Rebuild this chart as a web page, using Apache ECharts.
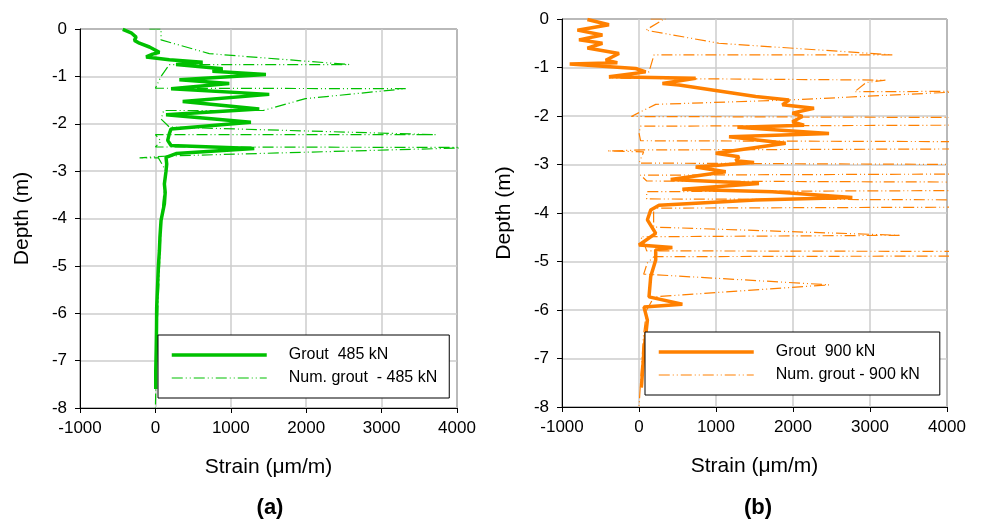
<!DOCTYPE html>
<html>
<head>
<meta charset="utf-8">
<script src="https://cdn.jsdelivr.net/npm/echarts@6/dist/echarts.min.js"></script>
<style>html,body{margin:0;padding:0;background:#fff}#c{width:982px;height:519px}</style>
</head>
<body>
<div id="c"></div>
<script>
// Panel (a): Grout 485 kN (measured)
const groutAStrain = [-433,-322,-256,-278,-212,-79,53,-36,-123,185,627,274,892,757,1466,318,980,208,1510,362,1377,141,1267,208,185,163,208,1311,274,141,150,141,119,130,119,75,60,53,40,30,17,15,10,5,5];
const groutADepth  = [-0.01,-0.08,-0.17,-0.24,-0.30,-0.38,-0.49,-0.53,-0.59,-0.65,-0.70,-0.75,-0.84,-0.89,-0.96,-1.07,-1.15,-1.26,-1.38,-1.53,-1.69,-1.81,-1.97,-2.11,-2.21,-2.35,-2.46,-2.52,-2.63,-2.71,-2.85,-3.0,-3.27,-3.45,-3.69,-4.04,-4.4,-4.68,-5.0,-5.38,-5.88,-6.3,-6.8,-7.2,-7.6];
// Panel (a): Numerical grout 485 kN
const numAStrain = [-80,75,75,715,2570,185,75,0,3320,1990,1430,110,75,185,3717,0,75,0,4300,185,-210,40,140,110,80,55,30,12,0];
const numADepth  = [0,0,-0.23,-0.52,-0.75,-0.75,-1.0,-1.25,-1.26,-1.47,-1.72,-1.72,-1.9,-2.07,-2.23,-2.23,-2.37,-2.49,-2.50,-2.68,-2.72,-2.72,-3.0,-3.5,-4.0,-5.0,-6.0,-7.0,-8.0];
// Panel (b): Grout 900 kN (measured)
const groutBStrain = [-670,-390,-800,-475,-779,-475,-670,-260,-432,-281,-900,-43,87,-390,736,304,520,1515,1948,1862,2273,1992,2122,1992,2143,1278,2468,1169,1905,996,1299,1256,1494,736,1126,412,1558,563,1732,2771,1515,260,152,109,217,0,433,217,217,152,130,563,65,109,65,35,30];
const groutBDepth  = [-0.01,-0.12,-0.23,-0.33,-0.43,-0.50,-0.60,-0.71,-0.85,-0.90,-0.93,-1.02,-1.09,-1.19,-1.22,-1.33,-1.36,-1.60,-1.67,-1.77,-1.84,-1.94,-2.01,-2.12,-2.19,-2.23,-2.36,-2.43,-2.56,-2.77,-2.84,-2.92,-2.96,-3.05,-3.15,-3.31,-3.39,-3.51,-3.56,-3.68,-3.73,-3.84,-3.94,-4.14,-4.42,-4.66,-4.71,-4.76,-4.97,-5.31,-5.73,-5.88,-5.94,-6.21,-6.82,-7.51,-7.6];
// Panel (b): Numerical grout 900 kN
const numBStrain = [152,346,304,87,1039,3290,195,130,-390,3200,2950,2800,4300,1950,217,0,-100,20000,20,0,20,20000,60,-410,60,0,0,20000,20,100,20000,100,100,20000,190,190,3400,22,60,100,20000,195,108,61,2467,195,100,60,40,20,0];
const numBDepth  = [0,0,-0.02,-0.23,-0.50,-0.74,-0.74,-1.09,-1.22,-1.26,-1.31,-1.50,-1.49,-1.67,-1.76,-1.93,-2.01,-2.11,-2.21,-2.35,-2.51,-2.60,-2.70,-2.72,-2.74,-2.97,-3.01,-3.11,-3.22,-3.34,-3.45,-3.56,-3.71,-3.80,-3.90,-4.29,-4.46,-4.49,-4.6,-4.78,-4.84,-4.90,-5.03,-5.26,-5.48,-5.73,-6.0,-6.5,-7.0,-7.5,-8.0];

const xTicks = [-1000, 0, 1000, 2000, 3000, 4000];
const yTicks = [-8, -7, -6, -5, -4, -3, -2, -1, 0];
const seriesNames = ['Grout  485 kN', 'Num. grout  - 485 kN', 'Grout  900 kN', 'Num. grout - 900 kN'];

const zip = (xs, ys) => xs.map((v, i) => [v, ys[i]]);
const GREEN = '#00c000', ORANGE = '#ff8000';
const FONT = 'Liberation Sans, Arial, sans-serif';

function xAxis(gi) {
  return {
    type: 'value', gridIndex: gi, min: xTicks[0], max: xTicks[xTicks.length - 1], interval: 1000,
    name: 'Strain (μm/m)', nameLocation: 'middle', nameGap: 49,
    nameTextStyle: { fontFamily: FONT, fontSize: 21, color: '#000' },
    axisLine: { onZero: false, lineStyle: { color: '#000', width: 1 } },
    axisTick: { inside: false, length: 5, lineStyle: { color: '#000' } },
    axisLabel: { fontFamily: FONT, fontSize: 17, color: '#000', margin: 12, formatter: v => String(v) },
    splitLine: { show: true, lineStyle: { color: '#cccccc', width: 1.5 } }
  };
}
function yAxis(gi) {
  return {
    type: 'value', gridIndex: gi, min: yTicks[0], max: yTicks[yTicks.length - 1], interval: 1,
    name: 'Depth (m)', nameLocation: 'middle', nameGap: 47, nameRotate: 90,
    nameTextStyle: { fontFamily: FONT, fontSize: 21, color: '#000' },
    axisLine: { onZero: false, lineStyle: { color: '#000', width: 1 } },
    axisTick: { inside: false, length: 5, lineStyle: { color: '#000' } },
    axisLabel: { fontFamily: FONT, fontSize: 17, color: '#000', margin: 13, formatter: v => String(v) },
    splitLine: { show: true, lineStyle: { color: '#cccccc', width: 1.5 } }
  };
}
const dashDot = [11, 3, 1, 3, 1, 3];

function legend(names, left, top, colors, padRight) {
  return {
    data: [
      { name: names[0], lineStyle: { width: 3.5, color: colors } },
      { name: names[1], lineStyle: { width: 1.2, color: colors, type: dashDot } }
    ],
    orient: 'vertical', left: left, top: top, itemWidth: 95, itemHeight: 14, itemGap: 7,
    padding: [12, padRight, 12, 12], borderColor: '#000', borderWidth: 1, backgroundColor: '#fff', selectedMode: false,
    itemStyle: { opacity: 0 },
    textStyle: { fontFamily: FONT, fontSize: 16, color: '#000', padding: [0, 0, 0, 17] }
  };
}

const chart = echarts.init(document.getElementById('c'), null, { renderer: 'canvas' });
chart.setOption({
  animation: false,
  backgroundColor: '#fff',
  title: [
    { text: '(a)', left: 265, top: 492, textAlign: 'center', textStyle: { fontFamily: FONT, fontSize: 22, fontWeight: 'bold', color: '#000' } },
    { text: '(b)', left: 753, top: 492, textAlign: 'center', textStyle: { fontFamily: FONT, fontSize: 22, fontWeight: 'bold', color: '#000' } }
  ],
  grid: [
    { left: 80, top: 29, width: 377, height: 379, show: true, borderColor: '#000', borderWidth: 1, backgroundColor: 'transparent' },
    { left: 562, top: 19, width: 385, height: 388, show: true, borderColor: '#000', borderWidth: 1, backgroundColor: 'transparent' }
  ],
  xAxis: [xAxis(0), xAxis(1)],
  yAxis: [yAxis(0), yAxis(1)],
  legend: [
    legend([seriesNames[0], seriesNames[1]], 158, 335, GREEN, 12),
    legend([seriesNames[2], seriesNames[3]], 645, 332, ORANGE, 20)
  ],
  series: [
    { name: seriesNames[1], type: 'line', xAxisIndex: 0, yAxisIndex: 0, data: zip(numAStrain, numADepth), symbol: 'none', clip: true,
      lineStyle: { color: GREEN, width: 1.2, type: dashDot }, itemStyle: { color: GREEN }, z: 2 },
    { name: seriesNames[0], type: 'line', xAxisIndex: 0, yAxisIndex: 0, data: zip(groutAStrain, groutADepth), symbol: 'none', clip: true,
      lineStyle: { color: GREEN, width: 3.5 }, itemStyle: { color: GREEN }, z: 3 },
    { name: seriesNames[3], type: 'line', xAxisIndex: 1, yAxisIndex: 1, data: zip(numBStrain, numBDepth), symbol: 'none', clip: true,
      lineStyle: { color: ORANGE, width: 1.2, type: dashDot }, itemStyle: { color: ORANGE }, z: 2 },
    { name: seriesNames[2], type: 'line', xAxisIndex: 1, yAxisIndex: 1, data: zip(groutBStrain, groutBDepth), symbol: 'none', clip: true,
      lineStyle: { color: ORANGE, width: 3.5 }, itemStyle: { color: ORANGE }, z: 3 }
  ]
});
</script>
</body>
</html>
